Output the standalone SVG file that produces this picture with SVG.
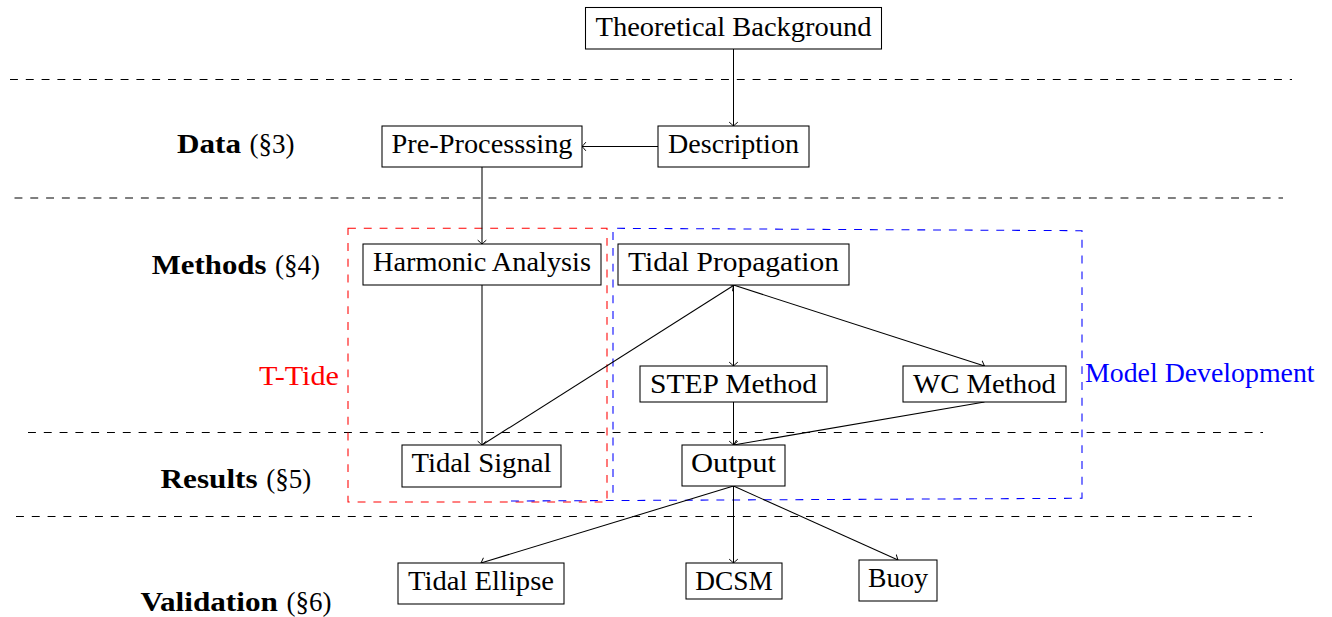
<svg xmlns="http://www.w3.org/2000/svg" width="1332" height="617" viewBox="0 0 1332 617">
  <style>
    .box { fill: #ffffff; stroke: #000000; stroke-width: 1.05; }
    .lbl { font-family: "Liberation Serif", "Times New Roman", serif; font-size: 26.5px; fill: #000000; text-anchor: middle; }
    .sec { font-family: "Liberation Serif", "Times New Roman", serif; font-size: 26.5px; fill: #000000; }
    .bold { font-weight: bold; }
    .sep { fill: none; stroke: #000000; stroke-width: 1.05; stroke-dasharray: 7.9 7.9; }
    .grp { fill: none; stroke-width: 1.05; stroke-dasharray: 7.9 7.9; }
    .red { stroke: #ff0000; }
    .blue { stroke: #0000ff; }
    .red-text { fill: #ff0000; }
    .blue-text { fill: #0000ff; }
    .edge { fill: none; stroke: #000000; stroke-width: 1.05; marker-end: url(#tip); }
  </style>
  <defs>
    <marker id="tip" markerUnits="userSpaceOnUse" viewBox="-6 -6 8 12" markerWidth="8" markerHeight="12" refX="0" refY="0" orient="auto" overflow="visible">
      <path d="M -3.6 -4 Q -1.2 -1.2 0 0 Q -1.2 1.2 -3.6 4" fill="none" stroke="#000000" stroke-width="1" stroke-linecap="round"/>
    </marker>
  </defs>

  <!-- section separators -->
  <g id="separators">
    <line class="sep" x1="10" y1="79.5" x2="1292" y2="79.5"/>
    <line class="sep" x1="14.5" y1="198" x2="1283" y2="198"/>
    <line class="sep" x1="28" y1="432.5" x2="1263" y2="432.5"/>
    <line class="sep" x1="16" y1="516.5" x2="1252" y2="516.5"/>
  </g>

  <!-- section labels -->
  <g id="section-labels">
    <text class="sec bold" x="177" y="153" textLength="64" lengthAdjust="spacingAndGlyphs">Data</text>
    <text class="sec" x="249.5" y="153" textLength="45" lengthAdjust="spacingAndGlyphs">(§3)</text>
    <text class="sec bold" x="151.8" y="274" textLength="114.6" lengthAdjust="spacingAndGlyphs">Methods</text>
    <text class="sec" x="275.1" y="274" textLength="45" lengthAdjust="spacingAndGlyphs">(§4)</text>
    <text class="sec bold" x="160.6" y="488" textLength="97" lengthAdjust="spacingAndGlyphs">Results</text>
    <text class="sec" x="266.3" y="488" textLength="45" lengthAdjust="spacingAndGlyphs">(§5)</text>
    <text class="sec bold" x="140.4" y="611" textLength="137.4" lengthAdjust="spacingAndGlyphs">Validation</text>
    <text class="sec" x="286.5" y="611" textLength="45" lengthAdjust="spacingAndGlyphs">(§6)</text>
  </g>

  <!-- grouping frames -->
  <g id="ttide-group">
    <rect class="grp red" x="348" y="228.3" width="259" height="273.7"/>
    <text class="sec red-text" x="339" y="385" text-anchor="end" textLength="80" lengthAdjust="spacingAndGlyphs">T-Tide</text>
  </g>
  <g id="model-group">
    <path class="grp blue" d="M 511 501 L 1082 498.3 L 1082 230.7 L 613 228.3 L 613 501"/>
    <text class="sec blue-text" x="1085" y="382.3" textLength="229.6" lengthAdjust="spacingAndGlyphs">Model Development</text>
  </g>

  <!-- connectors -->
  <g id="connectors">
    <line class="edge" x1="733.5" y1="49" x2="733.5" y2="126"/>
    <line class="edge" x1="658" y1="146.5" x2="582" y2="146.5"/>
    <line class="edge" x1="482" y1="167" x2="482" y2="244"/>
    <line class="edge" x1="482" y1="285" x2="482" y2="445"/>
    <line class="edge" x1="482" y1="445" x2="733.5" y2="285.5"/>
    <line class="edge" x1="733.5" y1="285" x2="733.5" y2="366"/>
    <line class="edge" x1="733.5" y1="285" x2="984.5" y2="366"/>
    <line class="edge" x1="733.5" y1="402" x2="733.5" y2="445"/>
    <line class="edge" x1="984.5" y1="402" x2="733.5" y2="445"/>
    <line class="edge" x1="733.5" y1="486" x2="481" y2="563"/>
    <line class="edge" x1="733.5" y1="486" x2="733.5" y2="563"/>
    <line class="edge" x1="733.5" y1="486" x2="898" y2="560"/>
  </g>

  <!-- nodes -->
  <g id="theoretical-background">
    <rect class="box" x="585.5" y="7.5" width="296" height="41.5"/>
    <text class="lbl" x="733.5" y="35.5" textLength="276" lengthAdjust="spacingAndGlyphs">Theoretical Background</text>
  </g>
  <g id="description">
    <rect class="box" x="658" y="126" width="151" height="41"/>
    <text class="lbl" x="733.5" y="153" textLength="131" lengthAdjust="spacingAndGlyphs">Description</text>
  </g>
  <g id="pre-processing">
    <rect class="box" x="382" y="126" width="200" height="41"/>
    <text class="lbl" x="482" y="153" textLength="181" lengthAdjust="spacingAndGlyphs">Pre-Processsing</text>
  </g>
  <g id="harmonic-analysis">
    <rect class="box" x="363" y="244" width="238" height="41"/>
    <text class="lbl" x="482" y="271" textLength="218" lengthAdjust="spacingAndGlyphs">Harmonic Analysis</text>
  </g>
  <g id="tidal-propagation">
    <rect class="box" x="618" y="244" width="231" height="41"/>
    <text class="lbl" x="733.5" y="271" textLength="211" lengthAdjust="spacingAndGlyphs">Tidal Propagation</text>
  </g>
  <g id="step-method">
    <rect class="box" x="640" y="366" width="187" height="36"/>
    <text class="lbl" x="733.5" y="393" textLength="167" lengthAdjust="spacingAndGlyphs">STEP Method</text>
  </g>
  <g id="wc-method">
    <rect class="box" x="903" y="366" width="163" height="36"/>
    <text class="lbl" x="984.5" y="393" textLength="143" lengthAdjust="spacingAndGlyphs">WC Method</text>
  </g>
  <g id="tidal-signal">
    <rect class="box" x="402" y="445" width="159" height="42"/>
    <text class="lbl" x="481.5" y="472" textLength="140" lengthAdjust="spacingAndGlyphs">Tidal Signal</text>
  </g>
  <g id="output">
    <rect class="box" x="682" y="445" width="103" height="41"/>
    <text class="lbl" x="733.5" y="472" textLength="85" lengthAdjust="spacingAndGlyphs">Output</text>
  </g>
  <g id="tidal-ellipse">
    <rect class="box" x="398" y="563" width="166" height="41"/>
    <text class="lbl" x="481" y="590" textLength="146" lengthAdjust="spacingAndGlyphs">Tidal Ellipse</text>
  </g>
  <g id="dcsm">
    <rect class="box" x="686" y="563" width="96" height="36"/>
    <text class="lbl" x="734" y="590" textLength="77.5" lengthAdjust="spacingAndGlyphs">DCSM</text>
  </g>
  <g id="buoy">
    <rect class="box" x="859" y="560" width="78" height="41"/>
    <text class="lbl" x="898" y="587" textLength="60" lengthAdjust="spacingAndGlyphs">Buoy</text>
  </g>
</svg>
